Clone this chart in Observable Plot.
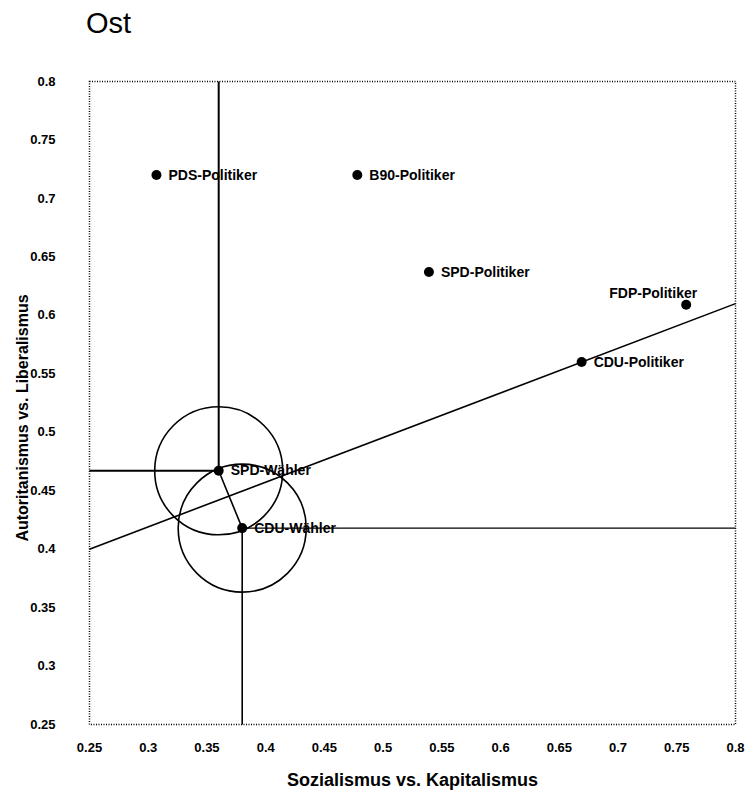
<!DOCTYPE html>
<html>
<head>
<meta charset="utf-8">
<script src="https://cdn.jsdelivr.net/npm/d3@7"></script>
<script src="https://cdn.jsdelivr.net/npm/@observablehq/plot@0.6"></script>
<style>
  body { margin: 0; background: #fff; width: 749px; height: 793px; overflow: hidden; }
  #title { font-family: "Liberation Sans", Arial, sans-serif; font-size: 29px; height: 50px; box-sizing: border-box; padding: 7px 0 0 86px; line-height: normal; color: #000; }
  svg { display: block; }
</style>
</head>
<body>
<div id="title">Ost</div>
<div id="chart"></div>
<script>
// Data
const names = ["PDS-Politiker", "B90-Politiker", "SPD-Politiker", "FDP-Politiker", "CDU-Politiker", "SPD-Wähler", "CDU-Wähler"];
const xVals = [0.307, 0.478, 0.539, 0.758, 0.669, 0.36, 0.38];
const yVals = [0.72, 0.72, 0.637, 0.609, 0.56, 0.467, 0.418];
const xTicks = [0.25, 0.3, 0.35, 0.4, 0.45, 0.5, 0.55, 0.6, 0.65, 0.7, 0.75, 0.8];
const yTicks = [0.25, 0.3, 0.35, 0.4, 0.45, 0.5, 0.55, 0.6, 0.65, 0.7, 0.75, 0.8];
// separation line (start and end)
const sepX = [0.25, 0.8];
const sepY = [0.40, 0.61];

const pts = names.map((n, i) => ({name: n, x: xVals[i], y: yVals[i]}));
const spdW = pts[5], cduW = pts[6];
const normalLabels = pts.filter(d => d.name !== "FDP-Politiker");
const fdp = pts.filter(d => d.name === "FDP-Politiker");
const [xMin, xMax] = [xTicks[0], xTicks[xTicks.length - 1]];
const [yMin, yMax] = [yTicks[0], yTicks[yTicks.length - 1]];

const font = "'Liberation Sans', Arial, sans-serif";

const chart = Plot.plot({
  width: 749,
  height: 743,
  marginTop: 31,
  marginBottom: 69,
  marginLeft: 89,
  marginRight: 14,
  style: {fontFamily: font, background: "#fff", color: "#000"},
  x: {domain: [xMin, xMax]},
  y: {domain: [yMin, yMax]},
  marks: [
    Plot.frame({stroke: "#000", strokeWidth: 1.5, strokeDasharray: "1,1.5"}),
    Plot.axisX(xTicks, {tickSize: 0, tickPadding: 18, label: null, fontSize: 13, fontWeight: "bold", tickFormat: d => String(d), style: "letter-spacing:1.5px"}),
    Plot.axisY(yTicks, {tickSize: 0, tickPadding: 34, label: null, fontSize: 13, fontWeight: "bold", tickFormat: d => String(d), style: "letter-spacing:1.5px"}),
    // SPD-Wähler reference lines
    Plot.link([spdW], {x1: "x", y1: "y", x2: "x", y2: () => yMax, stroke: "#000", strokeWidth: 2}),
    Plot.link([spdW], {x1: () => xMin, y1: "y", x2: "x", y2: "y", stroke: "#000", strokeWidth: 2}),
    // CDU-Wähler reference lines
    Plot.link([cduW], {x1: "x", y1: "y", x2: "x", y2: () => yMin, stroke: "#000", strokeWidth: 1.6}),
    Plot.link([cduW], {x1: "x", y1: "y", x2: () => xMax, y2: "y", stroke: "#000", strokeWidth: 1.1}),
    // connector between voters
    Plot.link([0], {x1: () => spdW.x, y1: () => spdW.y, x2: () => cduW.x, y2: () => cduW.y, stroke: "#000", strokeWidth: 1.6}),
    // separating line
    Plot.link([0], {x1: () => sepX[0], y1: () => sepY[0], x2: () => sepX[1], y2: () => sepY[1], stroke: "#000", strokeWidth: 1.6}),
    // circles around voters
    Plot.dot([spdW, cduW], {x: "x", y: "y", r: 64, fill: "none", stroke: "#000", strokeWidth: 1.6}),
    // points
    Plot.dot(pts, {x: "x", y: "y", r: 5, fill: "#000", stroke: "none"}),
    Plot.text(normalLabels, {x: "x", y: "y", text: "name", textAnchor: "start", dx: 12, fontSize: 14, fontWeight: "bold", fill: "#000", style: "letter-spacing:0.8px"}),
    Plot.text(fdp, {x: "x", y: "y", text: "name", textAnchor: "end", dx: 11, dy: -11, fontSize: 14, fontWeight: "bold", fill: "#000", style: "letter-spacing:0.8px"}),
    // axis titles
    Plot.text(["Sozialismus vs. Kapitalismus"], {frameAnchor: "bottom", lineAnchor: "bottom", dy: 61, fontSize: 18, fontWeight: "bold", fill: "#000"}),
    Plot.text(["Autoritanismus vs. Liberalismus"], {frameAnchor: "left", textAnchor: "middle", rotate: -90, dx: -67, dy: 15, fontSize: 16, fontWeight: "bold", fill: "#000"})
  ]
});
document.getElementById("chart").appendChild(chart);
</script>
</body>
</html>
